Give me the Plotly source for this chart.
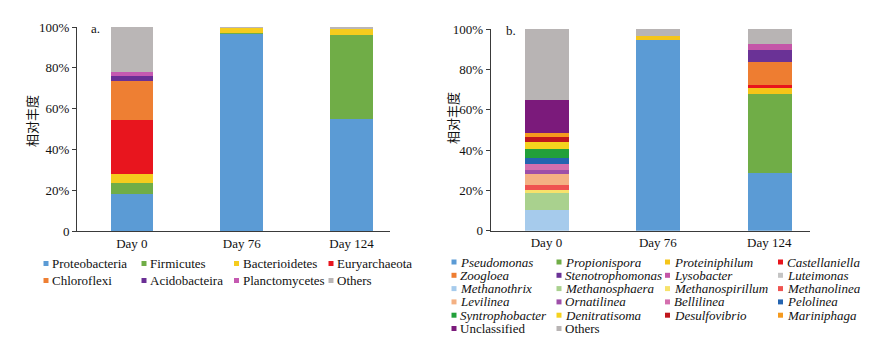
import plotly.graph_objects as go

# page body has an 8px margin; figure sized so it fits the window exactly
OFF = 8
W, H = 887 - OFF, 349 - OFF

categories = ["Day 0", "Day 76", "Day 124"]
ytick_vals = [0, 20, 40, 60, 80, 100]
ytick_text = ["0", "20%", "40%", "60%", "80%", "100%"]

# Panel a: phyla
phylum_names = ["Proteobacteria", "Firmicutes", "Bacterioidetes", "Euryarchaeota",
                "Chloroflexi", "Acidobacteira", "Planctomycetes", "Others"]
phylum_colors = ["#5B9BD5", "#70AD47", "#F5CC1E", "#E8151E",
                 "#EE7F33", "#6A2F95", "#C559B1", "#BAB6B6"]
phylum_day0 = [17.9, 5.6, 4.6, 26.2, 19.1, 2.5, 2.2, 21.9]
phylum_day76 = [96.8, 0.4, 2.4, 0, 0, 0, 0, 0.4]
phylum_day124 = [55.0, 40.9, 3.3, 0, 0, 0, 0, 0.8]

# Panel b: genera
genus_names = ["Pseudomonas", "Propionispora", "Proteiniphilum", "Castellaniella",
               "Zoogloea", "Stenotrophomonas", "Lysobacter", "Luteimonas",
               "Methanothrix", "Methanosphaera", "Methanospirillum", "Methanolinea",
               "Levilinea", "Ornatilinea", "Bellilinea", "Pelolinea",
               "Syntrophobacter", "Denitratisoma", "Desulfovibrio", "Mariniphaga",
               "Unclassified", "Others"]
genus_italic = [True] * 20 + [False, False]
genus_colors = ["#5B9BD5", "#70AD47", "#F5C518", "#E8141C",
                "#EE7D31", "#6A3296", "#C456A8", "#C4C4C4",
                "#A6CBEC", "#A9D18E", "#F7E26B", "#EF5350",
                "#F4B183", "#9E4FA8", "#D46FAE", "#2464B0",
                "#22A03A", "#F5D21E", "#C0161C", "#F59A1E",
                "#7B1A7B", "#B8B4B4"]
genus_day0 = [0, 0, 0, 0, 0, 0, 0, 0,
              10.2, 8.6, 1.4, 2.4, 5.3, 2.2, 2.8, 3.3,
              4.1, 3.8, 2.5, 2.0, 16.2, 35.2]
genus_day76 = [94.5, 0, 2.2, 0, 0, 0, 0, 0,
               0, 0, 0, 0, 0, 0, 0, 0,
               0, 0, 0, 0, 0, 3.3]
genus_day124 = [28.6, 39.2, 2.9, 1.5, 11.3, 6.1, 2.8, 0,
                0, 0, 0, 0, 0, 0, 0, 0,
                0, 0, 0, 0, 0, 7.6]

SERIF = "Liberation Serif"
CJK = "Noto Sans CJK SC"
AXIS_COLOR = "#3a3a3a"

fig = go.Figure()

for i, name in enumerate(phylum_names):
    fig.add_trace(go.Bar(
        x=categories, y=[phylum_day0[i], phylum_day76[i], phylum_day124[i]],
        name=name, marker=dict(color=phylum_colors[i], line=dict(width=0)),
        width=0.39, xaxis="x", yaxis="y", showlegend=False))

for i, name in enumerate(genus_names):
    fig.add_trace(go.Bar(
        x=categories, y=[genus_day0[i], genus_day76[i], genus_day124[i]],
        name=name, marker=dict(color=genus_colors[i], line=dict(width=0)),
        width=0.395, xaxis="x2", yaxis="y2", showlegend=False))


def px(x):
    return (x - OFF) / W


def py(y):
    return 1 - (y - OFF) / H


axis_common = dict(showline=True, linecolor=AXIS_COLOR, linewidth=1,
                   showgrid=False, zeroline=False, automargin=False,
                   tickfont=dict(family=SERIF, size=13, color="#111"))

fig.update_layout(
    width=W, height=H, margin=dict(l=0, r=0, t=0, b=0),
    paper_bgcolor="white", plot_bgcolor="white",
    barmode="stack", bargap=0,
    xaxis=dict(domain=[px(77), px(390)], range=[-0.5, 2.35], anchor="y",
               type="category", ticks="", **axis_common),
    yaxis=dict(domain=[py(231), py(27)], range=[0, 100], anchor="x",
               tickvals=ytick_vals, ticktext=ytick_text,
               ticks="outside", ticklen=4, tickcolor=AXIS_COLOR, **axis_common),
    xaxis2=dict(domain=[px(490.7), px(810)], range=[-0.5, 2.365], anchor="y2",
                type="category", ticks="", **axis_common),
    yaxis2=dict(domain=[py(230.7), py(29)], range=[0, 100], anchor="x2",
                tickvals=ytick_vals, ticktext=ytick_text,
                ticks="outside", ticklen=4, tickcolor=AXIS_COLOR, **axis_common),
)

annotations = []
shapes = []

# y-axis titles
for xc, yc in [(32, 121), (453, 118)]:
    annotations.append(dict(x=px(xc), y=py(yc), xref="paper", yref="paper",
                            xanchor="center", yanchor="middle",
                            text="相对丰度", textangle=-90, showarrow=False,
                            font=dict(family=CJK, size=13, color="#111")))
# panel labels
for txt, xc, yc in [("a.", 95, 29), ("b.", 511, 31)]:
    annotations.append(dict(x=px(xc), y=py(yc), xref="paper", yref="paper",
                            xanchor="center", yanchor="middle",
                            text=txt, showarrow=False,
                            font=dict(family=SERIF, size=13, color="#111")))


def add_legend(names, colors, italics, col_x, row_y, ncol, gap):
    for k, name in enumerate(names):
        r, c = divmod(k, ncol)
        mx, my = col_x[c], row_y[r]
        shapes.append(dict(type="rect", xref="paper", yref="paper",
                           x0=px(mx - 2.5), x1=px(mx + 2.5),
                           y0=py(my + 2.5), y1=py(my - 2.5),
                           fillcolor=colors[k], line=dict(width=0)))
        label = f"<i>{name}</i>" if italics[k] else name
        annotations.append(dict(x=px(mx + gap), y=py(my), xref="paper", yref="paper",
                                text=label, showarrow=False, xanchor="left",
                                yanchor="middle", borderpad=0,
                                font=dict(family=SERIF, size=13, color="#111")))


add_legend(phylum_names, phylum_colors, [False] * len(phylum_names),
           [46, 144, 236.5, 331], [263.5, 280.5], 4, 5)
add_legend(genus_names, genus_colors, genus_italic,
           [454, 559, 667.5, 780.5],
           [262, 275.3, 288.6, 301.9, 315.2, 328.5], 4, 5)

fig.update_layout(annotations=annotations, shapes=shapes)

fig.write_html("out.html")
